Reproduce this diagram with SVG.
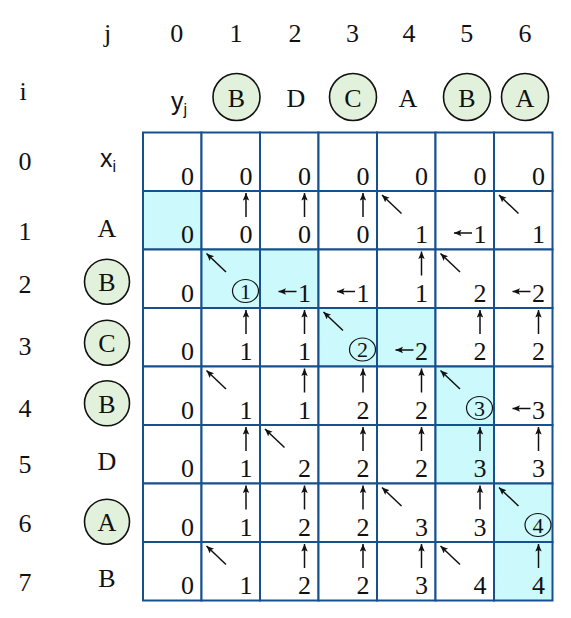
<svg xmlns="http://www.w3.org/2000/svg" width="571" height="618" viewBox="0 0 571 618">
<style>
.t{font-family:"Liberation Serif","Times New Roman",serif;font-size:26px;fill:#111;text-anchor:middle}
.s{font-family:"Liberation Sans",Arial,sans-serif;font-size:25px;fill:#111}
.sub{font-family:"Liberation Sans",Arial,sans-serif;font-size:16px;fill:#111}
.c{font-family:"Liberation Serif","Times New Roman",serif;font-size:22px;fill:#111;text-anchor:middle}
.cell{fill:#fff;stroke:#17508f;stroke-width:2}
.hl{fill:#ccf9fb;stroke:#17508f;stroke-width:2}
.lab{fill:#e2f1dc;stroke:#111;stroke-width:1.6}
.ring{fill:none;stroke:#111;stroke-width:1.2}
.ar{stroke:#111;stroke-width:1.5;fill:none;marker-end:url(#ah)}
</style>
<defs>
<marker id="ah" markerUnits="userSpaceOnUse" markerWidth="10" markerHeight="10" refX="7.5" refY="3.2" orient="auto">
<path d="M0,0 L7.5,3.2 L0,6.4 L1.6,3.2 z" fill="#111"/>
</marker>
</defs>
<g id="col-header">
<text class="t" x="107.5" y="41.5">j</text>
<text class="t" x="176.7" y="41.5">0</text>
<text class="t" x="236" y="41.5">1</text>
<text class="t" x="295" y="41.5">2</text>
<text class="t" x="352.5" y="41.5">3</text>
<text class="t" x="409" y="41.5">4</text>
<text class="t" x="466.7" y="41.5">5</text>
<text class="t" x="525" y="41.5">6</text>
</g>
<g id="row-y">
<text class="t" x="23" y="100">i</text>
<text class="s" x="171" y="110">y<tspan class="sub" dy="5">j</tspan></text>
<g id="y1"><circle class="lab" cx="236.5" cy="97" r="23.5"/><text class="t" x="236.5" y="106.5">B</text></g>
<g id="y2"><text class="t" x="296" y="107">D</text></g>
<g id="y3"><circle class="lab" cx="353" cy="97" r="23.5"/><text class="t" x="353" y="106.5">C</text></g>
<g id="y4"><text class="t" x="408" y="107">A</text></g>
<g id="y5"><circle class="lab" cx="467" cy="97" r="23.5"/><text class="t" x="467" y="106.5">B</text></g>
<g id="y6"><circle class="lab" cx="525" cy="97" r="23.5"/><text class="t" x="525" y="106.5">A</text></g>
</g>
<g id="row-index">
<text class="t" x="25" y="170">0</text>
<text class="t" x="25" y="240">1</text>
<text class="t" x="25" y="293">2</text>
<text class="t" x="25" y="355">3</text>
<text class="t" x="25" y="417">4</text>
<text class="t" x="25" y="473">5</text>
<text class="t" x="25" y="532">6</text>
<text class="t" x="25" y="591">7</text>
</g>
<g id="col-x">
<text class="s" x="100" y="167">x<tspan class="sub" dy="5">i</tspan></text>
<g id="x1"><text class="t" x="107" y="237">A</text></g>
<g id="x2"><circle class="lab" cx="107" cy="281.7" r="22.5"/><text class="t" x="107" y="291">B</text></g>
<g id="x3"><circle class="lab" cx="107" cy="342.7" r="22.5"/><text class="t" x="107" y="352">C</text></g>
<g id="x4"><circle class="lab" cx="107" cy="403.3" r="22.5"/><text class="t" x="107" y="412.5">B</text></g>
<g id="x5"><text class="t" x="107" y="470">D</text></g>
<g id="x6"><circle class="lab" cx="107" cy="521.7" r="22.5"/><text class="t" x="107" y="531">A</text></g>
<g id="x7"><text class="t" x="107" y="587">B</text></g>
</g>
<g id="table">
<!-- row 0 -->
<g id="c0-0"><rect class="cell" x="143" y="132.5" width="58.5" height="58.5"/><text class="t" x="187.5" y="184.5">0</text></g>
<g id="c0-1"><rect class="cell" x="201.5" y="132.5" width="58.5" height="58.5"/><text class="t" x="246" y="184.5">0</text></g>
<g id="c0-2"><rect class="cell" x="260" y="132.5" width="58.5" height="58.5"/><text class="t" x="304.5" y="184.5">0</text></g>
<g id="c0-3"><rect class="cell" x="318.5" y="132.5" width="58.5" height="58.5"/><text class="t" x="363" y="184.5">0</text></g>
<g id="c0-4"><rect class="cell" x="377" y="132.5" width="58.5" height="58.5"/><text class="t" x="421.5" y="184.5">0</text></g>
<g id="c0-5"><rect class="cell" x="435.5" y="132.5" width="58.5" height="58.5"/><text class="t" x="480" y="184.5">0</text></g>
<g id="c0-6"><rect class="cell" x="494" y="132.5" width="58.5" height="58.5"/><text class="t" x="538.5" y="184.5">0</text></g>
<!-- row 1 -->
<g id="c1-0"><rect class="hl" x="143" y="191" width="58.5" height="58.5"/><text class="t" x="187.5" y="243">0</text></g>
<g id="c1-1"><rect class="cell" x="201.5" y="191" width="58.5" height="58.5"/><text class="t" x="246" y="243">0</text></g>
<g id="c1-2"><rect class="cell" x="260" y="191" width="58.5" height="58.5"/><text class="t" x="304.5" y="243">0</text></g>
<g id="c1-3"><rect class="cell" x="318.5" y="191" width="58.5" height="58.5"/><text class="t" x="363" y="243">0</text></g>
<g id="c1-4"><rect class="cell" x="377" y="191" width="58.5" height="58.5"/><text class="t" x="421.5" y="243">1</text></g>
<g id="c1-5"><rect class="cell" x="435.5" y="191" width="58.5" height="58.5"/><text class="t" x="480" y="243">1</text></g>
<g id="c1-6"><rect class="cell" x="494" y="191" width="58.5" height="58.5"/><text class="t" x="538.5" y="243">1</text></g>
<!-- row 2 -->
<g id="c2-0"><rect class="cell" x="143" y="249.5" width="58.5" height="58.5"/><text class="t" x="187.5" y="301.5">0</text></g>
<g id="c2-1"><rect class="hl" x="201.5" y="249.5" width="58.5" height="58.5"/><ellipse class="ring" cx="245.5" cy="291" rx="13" ry="11.5"/><text class="c" x="245.5" y="298.8">1</text></g>
<g id="c2-2"><rect class="hl" x="260" y="249.5" width="58.5" height="58.5"/><text class="t" x="304.5" y="301.5">1</text></g>
<g id="c2-3"><rect class="cell" x="318.5" y="249.5" width="58.5" height="58.5"/><text class="t" x="363" y="301.5">1</text></g>
<g id="c2-4"><rect class="cell" x="377" y="249.5" width="58.5" height="58.5"/><text class="t" x="421.5" y="301.5">1</text></g>
<g id="c2-5"><rect class="cell" x="435.5" y="249.5" width="58.5" height="58.5"/><text class="t" x="480" y="301.5">2</text></g>
<g id="c2-6"><rect class="cell" x="494" y="249.5" width="58.5" height="58.5"/><text class="t" x="538.5" y="301.5">2</text></g>
<!-- row 3 -->
<g id="c3-0"><rect class="cell" x="143" y="308" width="58.5" height="58.5"/><text class="t" x="187.5" y="360">0</text></g>
<g id="c3-1"><rect class="cell" x="201.5" y="308" width="58.5" height="58.5"/><text class="t" x="246" y="360">1</text></g>
<g id="c3-2"><rect class="cell" x="260" y="308" width="58.5" height="58.5"/><text class="t" x="304.5" y="360">1</text></g>
<g id="c3-3"><rect class="hl" x="318.5" y="308" width="58.5" height="58.5"/><ellipse class="ring" cx="362.5" cy="349.5" rx="13" ry="11.5"/><text class="c" x="362.5" y="357.3">2</text></g>
<g id="c3-4"><rect class="hl" x="377" y="308" width="58.5" height="58.5"/><text class="t" x="421.5" y="360">2</text></g>
<g id="c3-5"><rect class="cell" x="435.5" y="308" width="58.5" height="58.5"/><text class="t" x="480" y="360">2</text></g>
<g id="c3-6"><rect class="cell" x="494" y="308" width="58.5" height="58.5"/><text class="t" x="538.5" y="360">2</text></g>
<!-- row 4 -->
<g id="c4-0"><rect class="cell" x="143" y="366.5" width="58.5" height="58.5"/><text class="t" x="187.5" y="418.5">0</text></g>
<g id="c4-1"><rect class="cell" x="201.5" y="366.5" width="58.5" height="58.5"/><text class="t" x="246" y="418.5">1</text></g>
<g id="c4-2"><rect class="cell" x="260" y="366.5" width="58.5" height="58.5"/><text class="t" x="304.5" y="418.5">1</text></g>
<g id="c4-3"><rect class="cell" x="318.5" y="366.5" width="58.5" height="58.5"/><text class="t" x="363" y="418.5">2</text></g>
<g id="c4-4"><rect class="cell" x="377" y="366.5" width="58.5" height="58.5"/><text class="t" x="421.5" y="418.5">2</text></g>
<g id="c4-5"><rect class="hl" x="435.5" y="366.5" width="58.5" height="58.5"/><ellipse class="ring" cx="479.5" cy="408" rx="13" ry="11.5"/><text class="c" x="479.5" y="415.8">3</text></g>
<g id="c4-6"><rect class="cell" x="494" y="366.5" width="58.5" height="58.5"/><text class="t" x="538.5" y="418.5">3</text></g>
<!-- row 5 -->
<g id="c5-0"><rect class="cell" x="143" y="425" width="58.5" height="58.5"/><text class="t" x="187.5" y="477">0</text></g>
<g id="c5-1"><rect class="cell" x="201.5" y="425" width="58.5" height="58.5"/><text class="t" x="246" y="477">1</text></g>
<g id="c5-2"><rect class="cell" x="260" y="425" width="58.5" height="58.5"/><text class="t" x="304.5" y="477">2</text></g>
<g id="c5-3"><rect class="cell" x="318.5" y="425" width="58.5" height="58.5"/><text class="t" x="363" y="477">2</text></g>
<g id="c5-4"><rect class="cell" x="377" y="425" width="58.5" height="58.5"/><text class="t" x="421.5" y="477">2</text></g>
<g id="c5-5"><rect class="hl" x="435.5" y="425" width="58.5" height="58.5"/><text class="t" x="480" y="477">3</text></g>
<g id="c5-6"><rect class="cell" x="494" y="425" width="58.5" height="58.5"/><text class="t" x="538.5" y="477">3</text></g>
<!-- row 6 -->
<g id="c6-0"><rect class="cell" x="143" y="483.5" width="58.5" height="58.5"/><text class="t" x="187.5" y="535.5">0</text></g>
<g id="c6-1"><rect class="cell" x="201.5" y="483.5" width="58.5" height="58.5"/><text class="t" x="246" y="535.5">1</text></g>
<g id="c6-2"><rect class="cell" x="260" y="483.5" width="58.5" height="58.5"/><text class="t" x="304.5" y="535.5">2</text></g>
<g id="c6-3"><rect class="cell" x="318.5" y="483.5" width="58.5" height="58.5"/><text class="t" x="363" y="535.5">2</text></g>
<g id="c6-4"><rect class="cell" x="377" y="483.5" width="58.5" height="58.5"/><text class="t" x="421.5" y="535.5">3</text></g>
<g id="c6-5"><rect class="cell" x="435.5" y="483.5" width="58.5" height="58.5"/><text class="t" x="480" y="535.5">3</text></g>
<g id="c6-6"><rect class="hl" x="494" y="483.5" width="58.5" height="58.5"/><ellipse class="ring" cx="538" cy="525" rx="13" ry="11.5"/><text class="c" x="538" y="532.8">4</text></g>
<!-- row 7 -->
<g id="c7-0"><rect class="cell" x="143" y="542" width="58.5" height="58.5"/><text class="t" x="187.5" y="594">0</text></g>
<g id="c7-1"><rect class="cell" x="201.5" y="542" width="58.5" height="58.5"/><text class="t" x="246" y="594">1</text></g>
<g id="c7-2"><rect class="cell" x="260" y="542" width="58.5" height="58.5"/><text class="t" x="304.5" y="594">2</text></g>
<g id="c7-3"><rect class="cell" x="318.5" y="542" width="58.5" height="58.5"/><text class="t" x="363" y="594">2</text></g>
<g id="c7-4"><rect class="cell" x="377" y="542" width="58.5" height="58.5"/><text class="t" x="421.5" y="594">3</text></g>
<g id="c7-5"><rect class="cell" x="435.5" y="542" width="58.5" height="58.5"/><text class="t" x="480" y="594">4</text></g>
<g id="c7-6"><rect class="hl" x="494" y="542" width="58.5" height="58.5"/><text class="t" x="538.5" y="594">4</text></g>
</g>
<g id="connectors">
<!-- row 1 -->
<path class="ar" d="M246,217 V193"/>
<path class="ar" d="M304.5,217 V193"/>
<path class="ar" d="M363,217 V193"/>
<path class="ar" d="M401.5,213.5 L382,195"/>
<path class="ar" d="M472,233 H454"/>
<path class="ar" d="M518.5,213.5 L499,195"/>
<!-- row 2 -->
<path class="ar" d="M226,272 L206.5,253.5"/>
<path class="ar" d="M296.5,291.5 H278.5"/>
<path class="ar" d="M355,291.5 H337"/>
<path class="ar" d="M421.5,275.5 V251.5"/>
<path class="ar" d="M460,272 L440.5,253.5"/>
<path class="ar" d="M530.5,291.5 H512.5"/>
<!-- row 3 -->
<path class="ar" d="M246,334 V310"/>
<path class="ar" d="M304.5,334 V310"/>
<path class="ar" d="M343,330.5 L323.5,312"/>
<path class="ar" d="M413.5,350 H395.5"/>
<path class="ar" d="M480,334 V310"/>
<path class="ar" d="M538.5,334 V310"/>
<!-- row 4 -->
<path class="ar" d="M226,389 L206.5,370.5"/>
<path class="ar" d="M304.5,392.5 V368.5"/>
<path class="ar" d="M363,392.5 V368.5"/>
<path class="ar" d="M421.5,392.5 V368.5"/>
<path class="ar" d="M460,389 L440.5,370.5"/>
<path class="ar" d="M530.5,408.5 H512.5"/>
<!-- row 5 -->
<path class="ar" d="M246,451 V427"/>
<path class="ar" d="M284.5,447.5 L265,429"/>
<path class="ar" d="M363,451 V427"/>
<path class="ar" d="M421.5,451 V427"/>
<path class="ar" d="M480,451 V427"/>
<path class="ar" d="M538.5,451 V427"/>
<!-- row 6 -->
<path class="ar" d="M246,509.5 V485.5"/>
<path class="ar" d="M304.5,509.5 V485.5"/>
<path class="ar" d="M363,509.5 V485.5"/>
<path class="ar" d="M401.5,506 L382,487.5"/>
<path class="ar" d="M480,509.5 V485.5"/>
<path class="ar" d="M518.5,506 L499,487.5"/>
<!-- row 7 -->
<path class="ar" d="M226,564.5 L206.5,546"/>
<path class="ar" d="M304.5,568 V544"/>
<path class="ar" d="M363,568 V544"/>
<path class="ar" d="M421.5,568 V544"/>
<path class="ar" d="M460,564.5 L440.5,546"/>
<path class="ar" d="M538.5,568 V544"/>
</g>
</svg>
